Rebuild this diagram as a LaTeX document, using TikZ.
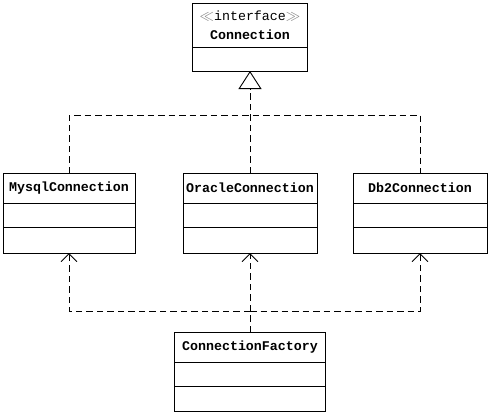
\documentclass[tikz,border=0pt]{standalone}
\usepackage{fontspec}
\setmonofont{Liberation Mono}
\newfontfamily\symfont{DejaVu Sans}
\usetikzlibrary{positioning,arrows.meta}
\tikzset{
  classtitle/.style={draw,line width=0.9pt,inner sep=0pt,outer sep=0pt,minimum height=30pt,
    font=\ttfamily\bfseries\fontsize{13.3}{19}\selectfont,align=center},
  classpart/.style={draw,line width=0.9pt,inner sep=0pt,outer sep=0pt},
  dep/.style={line width=0.9pt,dash pattern=on 6.5pt off 4pt},
  realize/.style={dep,-{Triangle[open,length=18pt,width=23pt,line width=0.9pt]}},
  usearrow/.style={dep,-{Straight Barb[length=8pt,width=16pt,line width=0.9pt]}}
}
\begin{document}
\begin{tikzpicture}[x=1pt,y=-1pt]
 \useasboundingbox[fill=white](0,0) rectangle (491,416);
 % interface
 \node[classtitle,minimum width=115pt,minimum height=44pt] (conn) at (250,25)
   {{\mdseries\textcolor{gray}{\symfont\ensuremath{\ll}}interface\textcolor{gray}{\symfont\ensuremath{\gg}}}\\Connection};
 \node[classpart,minimum width=115pt,minimum height=24pt,below=0pt of conn] (conn-a) {};
 % implementations
 \node[classtitle,minimum width=132pt] (mysql) at (69,188) {MysqlConnection};
 \node[classpart,minimum width=132pt,minimum height=24pt,below=0pt of mysql] (mysql-a) {};
 \node[classpart,minimum width=132pt,minimum height=26pt,below=0pt of mysql-a] (mysql-b) {};
 \node[classtitle,minimum width=134pt] (oracle) at (250,188) {OracleConnection};
 \node[classpart,minimum width=134pt,minimum height=24pt,below=0pt of oracle] (oracle-a) {};
 \node[classpart,minimum width=134pt,minimum height=26pt,below=0pt of oracle-a] (oracle-b) {};
 \node[classtitle,minimum width=134pt] (db2) at (420,188) {Db2Connection};
 \node[classpart,minimum width=134pt,minimum height=24pt,below=0pt of db2] (db2-a) {};
 \node[classpart,minimum width=134pt,minimum height=26pt,below=0pt of db2-a] (db2-b) {};
 % factory
 \node[classtitle,minimum width=151pt] (factory) at (250,347) {ConnectionFactory};
 \node[classpart,minimum width=151pt,minimum height=24pt,below=0pt of factory] (factory-a) {};
 \node[classpart,minimum width=151pt,minimum height=25pt,below=0pt of factory-a] (factory-b) {};
 % connectors
 \coordinate (hubtop) at (250,115);
 \coordinate (hubbot) at (250,311);
 \draw[dep] (mysql.north) |- (hubtop) -| (db2.north);
 \draw[realize] (oracle.north) -- (conn-a.south);
 \draw[usearrow] (hubbot) -| (mysql-b.south);
 \draw[usearrow] (hubbot) -| (db2-b.south);
 \draw[usearrow] (factory.north) -- (oracle-b.south);
\end{tikzpicture}
\end{document}
